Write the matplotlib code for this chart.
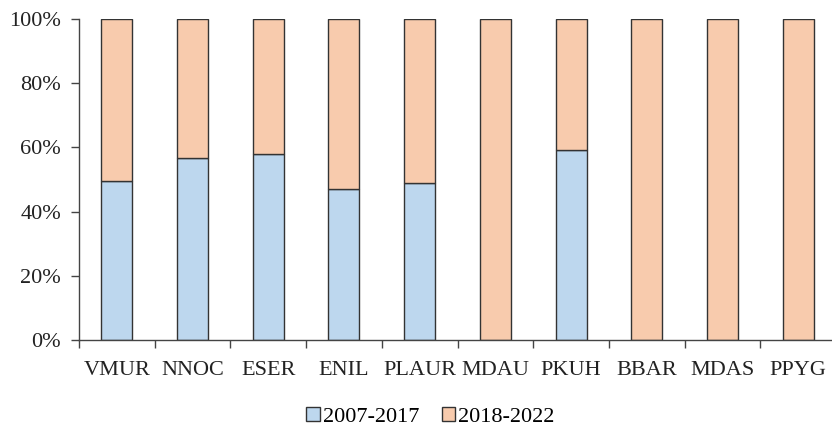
import matplotlib
matplotlib.use("Agg")
import matplotlib.pyplot as plt
import numpy as np

categories = ["VMUR", "NNOC", "ESER", "ENIL", "PLAUR", "MDAU", "PKUH", "BBAR", "MDAS", "PPYG"]
share_2007_2017 = [0.495, 0.568, 0.579, 0.471, 0.488, 0.0, 0.592, 0.0, 0.0, 0.0]
share_2018_2022 = [1 - v for v in share_2007_2017]
series_labels = ["2007-2017", "2018-2022"]
y_ticks = [0, 0.2, 0.4, 0.6, 0.8, 1.0]
y_tick_labels = ["0%", "20%", "40%", "60%", "80%", "100%"]

plt.rcParams['font.family'] = ['Liberation Serif', 'DejaVu Serif']

fig = plt.figure(figsize=(8.32, 4.29), dpi=100)
ax = fig.add_axes([79/832, 1 - 340/429, (836 - 79)/832, (340 - 19)/429])

x = np.arange(len(categories))
edge = "#333333"
b1 = ax.bar(x, share_2007_2017, width=0.41, color="#BDD7EE", edgecolor=edge, linewidth=1.0, label=series_labels[0])
b2 = ax.bar(x, share_2018_2022, bottom=share_2007_2017, width=0.41, color="#F8CBAD", edgecolor=edge, linewidth=1.0, label=series_labels[1])

ax.set_xlim(-0.5, len(categories) - 0.5)
ax.set_ylim(0, 1.0)
ax.set_yticks(y_ticks)
ax.set_yticklabels(y_tick_labels)
ax.set_xticks(x)
ax.set_xticklabels(categories)
ax.set_xticks(np.arange(len(categories) + 1) - 0.5, minor=True)
ax.tick_params(axis='x', which='major', length=0, pad=15, labelsize=16, colors="#222222")
ax.tick_params(axis='x', which='minor', length=6, width=1, color="#444444", direction='out')
ax.tick_params(axis='y', length=6, width=1, color="#444444", pad=7, labelsize=16, labelcolor="#222222")

for s in ["top", "right"]:
    ax.spines[s].set_visible(False)
for s in ["left", "bottom"]:
    ax.spines[s].set_color("#444444")
    ax.spines[s].set_linewidth(1)

fig.legend(handles=[b1, b2], labels=series_labels, loc="center", bbox_to_anchor=(0.5175, 1 - 417/429),
           ncol=2, frameon=False, fontsize=16, handlelength=0.6, handleheight=0.6,
           handletextpad=0.15, columnspacing=1.0)

fig.savefig("out.png", dpi=100)
